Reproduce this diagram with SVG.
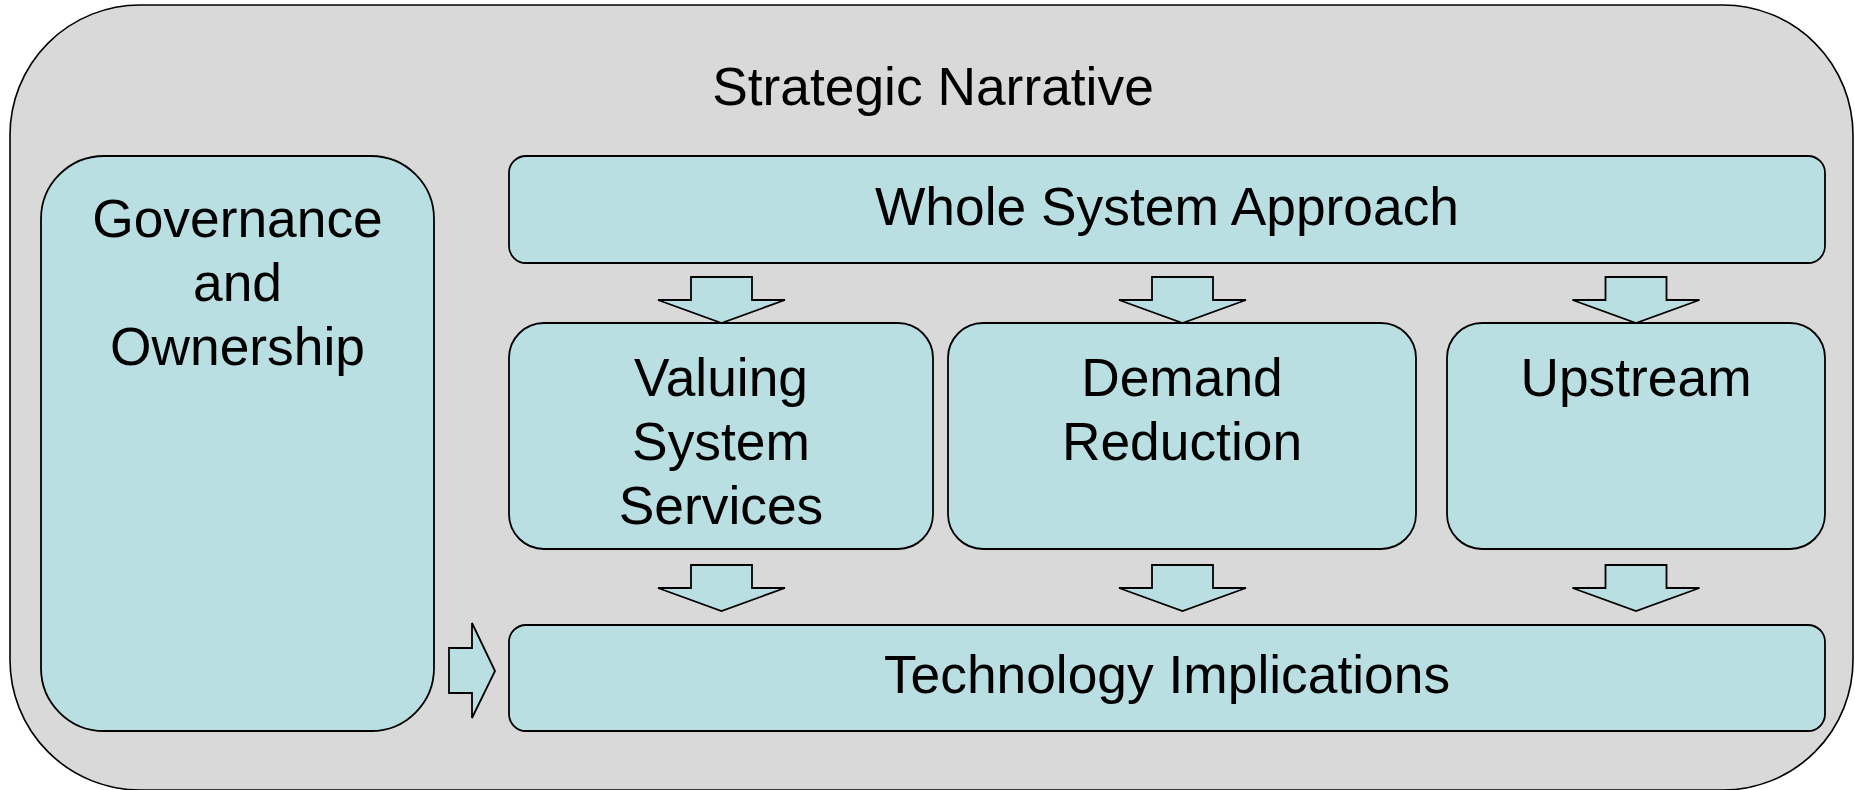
<svg xmlns="http://www.w3.org/2000/svg" width="1855" height="790" viewBox="0 0 1855 790">
  <style>
    .frame { fill: #d9d9d9; stroke: #000; stroke-width: 1.6; }
    .box { fill: #b9dfe3; stroke: #000; stroke-width: 1.8; }
    .arrow { fill: #b9dfe3; stroke: #000; stroke-width: 1.8; stroke-linejoin: miter; }
    .label { font-family: "Liberation Sans", Arial, sans-serif; font-size: 53.33px; fill: #000; text-anchor: middle; }
  </style>
  <defs>
    <!-- block arrow pointing down, tip at origin -->
    <polygon id="down-arrow" class="arrow" points="-30.5,-46 30.5,-46 30.5,-23 63.5,-23 0,0 -63.5,-23 -30.5,-23"/>
  </defs>

  <!-- outer container -->
  <g id="strategic-narrative">
    <rect class="frame" x="10" y="5" width="1843" height="785" rx="130" ry="130"/>
    <text class="label" x="933" y="105">Strategic Narrative</text>
  </g>

  <g id="governance">
    <rect class="box" x="41" y="156" width="393" height="575" rx="63" ry="63"/>
    <text class="label" x="237.5" y="237">Governance</text>
    <text class="label" x="237.5" y="301">and</text>
    <text class="label" x="237.5" y="365">Ownership</text>
  </g>

  <g id="whole-system">
    <rect class="box" x="509" y="156" width="1316" height="107" rx="17" ry="17"/>
    <text class="label" x="1167" y="225">Whole System Approach</text>
  </g>

  <g id="valuing">
    <rect class="box" x="509" y="323" width="424" height="226" rx="35" ry="35"/>
    <text class="label" x="721" y="396">Valuing</text>
    <text class="label" x="721" y="460">System</text>
    <text class="label" x="721" y="524">Services</text>
  </g>

  <g id="demand">
    <rect class="box" x="948" y="323" width="468" height="226" rx="35" ry="35"/>
    <text class="label" x="1182" y="396">Demand</text>
    <text class="label" x="1182" y="460">Reduction</text>
  </g>

  <g id="upstream">
    <rect class="box" x="1447" y="323" width="378" height="226" rx="35" ry="35"/>
    <text class="label" x="1636" y="396">Upstream</text>
  </g>

  <g id="technology">
    <rect class="box" x="509" y="625" width="1316" height="106" rx="17" ry="17"/>
    <text class="label" x="1167" y="693">Technology Implications</text>
  </g>

  <!-- block arrows between layers -->
  <g id="connectors">
    <use href="#down-arrow" x="721.5" y="323"/>
    <use href="#down-arrow" x="1182.5" y="323"/>
    <use href="#down-arrow" x="1636" y="323"/>
    <use href="#down-arrow" x="721.5" y="611"/>
    <use href="#down-arrow" x="1182.5" y="611"/>
    <use href="#down-arrow" x="1636" y="611"/>
    <polygon class="arrow" points="449,648 472,648 472,623 495,671 472,718 472,693 449,693"/>
  </g>
</svg>
